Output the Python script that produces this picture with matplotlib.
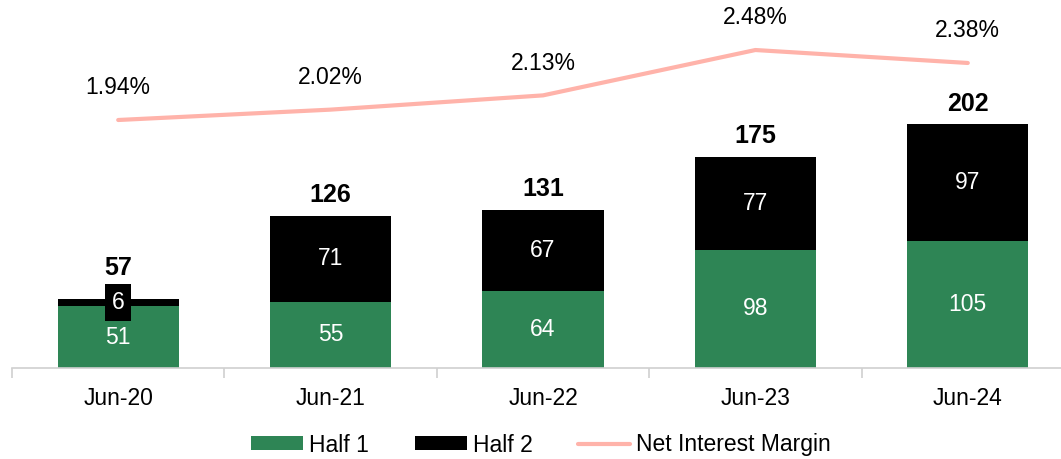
import matplotlib
matplotlib.use("Agg")
import matplotlib.pyplot as plt
import numpy as np

plt.rcParams['font.family'] = ['Liberation Sans', 'DejaVu Sans']

categories = ["Jun-20", "Jun-21", "Jun-22", "Jun-23", "Jun-24"]
half1 = [51, 55, 64, 98, 105]
half2 = [6, 71, 67, 77, 97]
totals = [57, 126, 131, 175, 202]
nim = [1.94, 2.02, 2.13, 2.48, 2.38]

green = "#2E8555"
pink = "#FFB3AA"

fig = plt.figure(figsize=(10.61, 4.59), dpi=100)
ax = fig.add_axes([12/1061, 1 - 368/459, 1062/1061, 368/459])
x = np.arange(len(categories))
w = 0.57

b1 = ax.bar(x, half1, w, color=green, label="Half 1", zorder=2)
b2 = ax.bar(x, half2, w, bottom=half1, color="black", label="Half 2", zorder=2)

for i in range(len(x)):
    ax.text(x[i], half1[i] / 2, str(half1[i]), ha="center", va="center",
            color="white", fontsize=16.5, zorder=5)
    small = half2[i] < 15
    bbox = dict(boxstyle="square,pad=0.3", fc="black", ec="none") if small else None
    ax.text(x[i], half1[i] + half2[i] / 2, str(half2[i]), ha="center", va="center",
            color="white", fontsize=16.5, zorder=5, bbox=bbox)
    ax.annotate(str(totals[i]), (x[i], totals[i]), xytext=(0, 14 if small else 6),
                textcoords="offset points", ha="center", va="bottom",
                fontsize=18, fontweight="bold")

ax.set_xlim(-0.5, 4.5)
ax.set_ylim(0, 368 / 1.208)
ax.set_yticks([])
for s in ["top", "right", "left"]:
    ax.spines[s].set_visible(False)
ax.spines["bottom"].set_color("#D0D0D0")
ax.spines["bottom"].set_linewidth(1.2)
ax.set_xticks(x)
ax.set_xticklabels(categories, fontsize=16.5)
ax.tick_params(axis="x", which="major", length=0, pad=14)
ax.set_xticks(np.arange(-0.5, 5, 1), minor=True)
ax.tick_params(axis="x", which="minor", length=7, color="#D0D0D0", width=1.2)

ax2 = ax.twinx()
ymin2 = 1.94 - 248 / 129.6
ax2.set_ylim(ymin2, ymin2 + 368 / 129.6)
ln, = ax2.plot(x, nim, color=pink, lw=3, solid_capstyle="round", label="Net Interest Margin")
for i in range(len(x)):
    ax2.annotate(f"{nim[i]:.2f}%", (x[i], nim[i]), xytext=(0, 15), textcoords="offset points",
                 ha="center", va="bottom", fontsize=16.5)
ax2.set_yticks([])
for s in ax2.spines.values():
    s.set_visible(False)

leg = fig.legend(handles=[b1, b2, ln], labels=["Half 1", "Half 2", "Net Interest Margin"],
                 loc="center", bbox_to_anchor=(541/1061, 1 - 445/459), ncol=3, frameon=False,
                 fontsize=16.5, handlelength=2.26, handleheight=0.57, handletextpad=0.26,
                 columnspacing=2.0, borderpad=0.1)
for h in leg.legend_handles:
    if hasattr(h, "set_linewidth") and not hasattr(h, "get_width"):
        pass

fig.savefig("out.png", dpi=100)
